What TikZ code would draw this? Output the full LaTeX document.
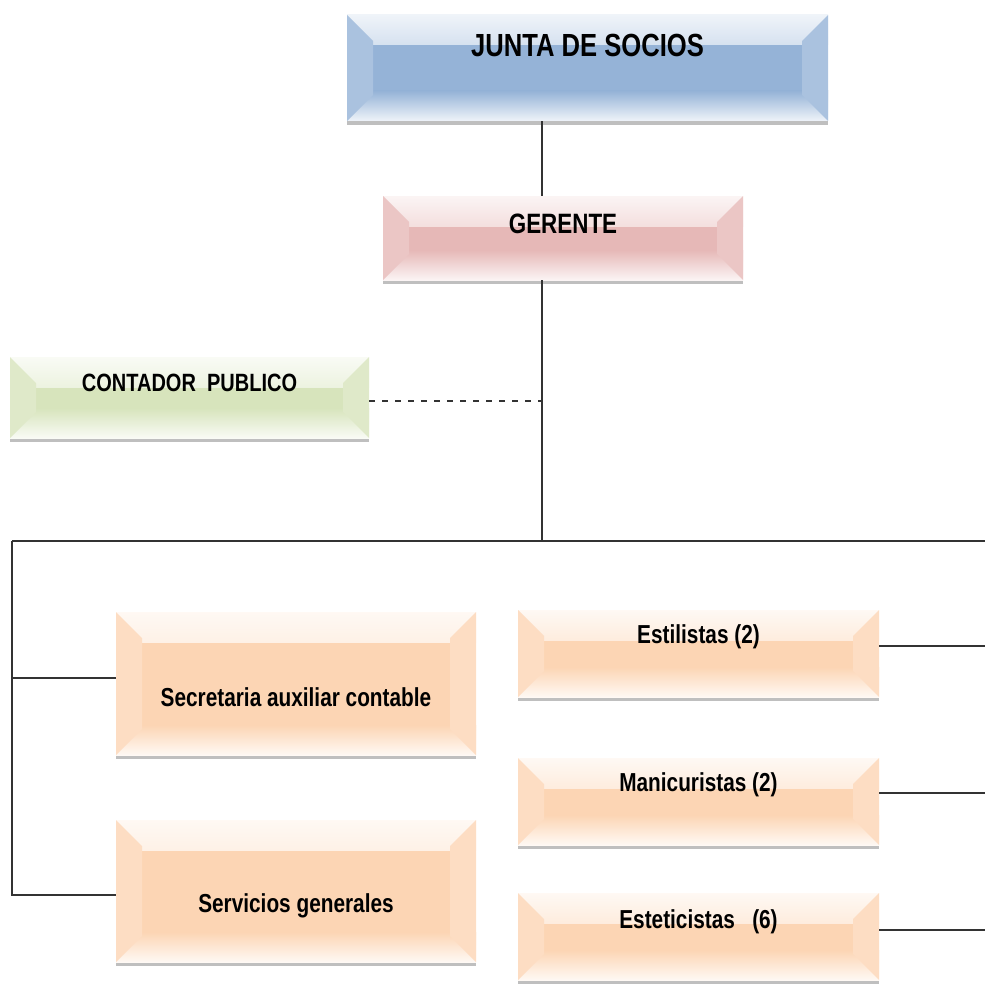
\documentclass[tikz,border=0pt]{standalone}
\usepackage{fontspec}
\newfontfamily\orgfont[FakeStretch=0.8]{Liberation Sans}
\usepackage{tikz}

\definecolor{azul}{HTML}{95B3D7}
\definecolor{rosa}{HTML}{E6B8B7}
\definecolor{verde}{HTML}{D7E4BC}
\definecolor{naranja}{HTML}{FCD5B4}
\definecolor{linea}{HTML}{333333}

\begin{document}
\begin{tikzpicture}[x=0.5pt,y=-0.5pt]
	\tikzset{caja/.style={rectangle,fill=#1,inner sep=0pt,
			preaction={fill=black!25,transform canvas={yshift=-1.8pt}},
			path picture={
				\fill[top color=#1!15!white,bottom color=#1] (path picture bounding box.north west) rectangle ([yshift=-15pt]path picture bounding box.north east);
				\fill[top color=#1,bottom color=#1!15!white] ([yshift=15pt]path picture bounding box.south west) rectangle (path picture bounding box.south east);
				\fill[#1!80!white] (path picture bounding box.north west) -- ++(13pt,-13pt) -- ([shift={(13pt,13pt)}]path picture bounding box.south west) -- (path picture bounding box.south west) -- cycle;
				\fill[#1!80!white] (path picture bounding box.north east) -- ++(-13pt,-13pt) -- ([shift={(-13pt,13pt)}]path picture bounding box.south east) -- (path picture bounding box.south east) -- cycle;
			}}}
	\tikzstyle{texto}=[font=\orgfont\bfseries,text=black,inner sep=0pt]
	\tikzstyle{conector}=[draw=linea,line width=1.4pt]
	\useasboundingbox (0,0) rectangle (985,990);

	% niveles superiores
	\node[caja=azul,minimum width=240.5pt,minimum height=53pt,
		label={[texto,font=\orgfont\bfseries\fontsize{16}{18}\selectfont,yshift=11.5pt]center:JUNTA DE SOCIOS}] (junta) at (587.5,68) {};
	\node[caja=rosa,minimum width=180pt,minimum height=42pt,
		label={[texto,font=\orgfont\bfseries\fontsize{14}{16}\selectfont,yshift=7pt]center:GERENTE}] (gerente) at (563,238) {};
	\node[caja=verde,minimum width=179.5pt,minimum height=40.5pt,
		label={[texto,font=\orgfont\bfseries\fontsize{12.5}{14}\selectfont,yshift=7.2pt]center:CONTADOR\ \ PUBLICO}] (contador) at (189.5,397.5) {};

	% personal
	\node[caja=naranja,minimum width=180pt,minimum height=71.5pt,
		label={[texto,font=\orgfont\bfseries\fontsize{13}{15}\selectfont,yshift=-6.8pt]center:Secretaria auxiliar contable}] (secretaria) at (296,683.5) {};
	\node[caja=naranja,minimum width=180pt,minimum height=71pt,
		label={[texto,font=\orgfont\bfseries\fontsize{13}{15}\selectfont,yshift=-7.5pt]center:Servicios generales}] (servicios) at (296,891) {};
	\node[caja=naranja,minimum width=180.5pt,minimum height=43.5pt,
		label={[texto,font=\orgfont\bfseries\fontsize{13}{15}\selectfont,yshift=8.2pt]center:Estilistas (2)}] (estilistas) at (698.5,653.5) {};
	\node[caja=naranja,minimum width=180.5pt,minimum height=43.5pt,
		label={[texto,font=\orgfont\bfseries\fontsize{13}{15}\selectfont,yshift=8.2pt]center:Manicuristas (2)}] (manicuristas) at (698.5,801.5) {};
	\node[caja=naranja,minimum width=180.5pt,minimum height=43.5pt,
		label={[texto,font=\orgfont\bfseries\fontsize{13}{15}\selectfont,yshift=7.2pt]center:Esteticistas\ \ \ (6)}] (esteticistas) at (698.5,936.5) {};

	\coordinate (eje) at (542,541);
	\coordinate (izq) at (12,541);
	\coordinate (der) at (985,541);

	% lineas de mando
	\draw[conector] (junta.south -| eje) -- (gerente.north -| eje);
	\draw[conector] (gerente.south -| eje) -- (eje);
	\draw[conector,line width=1.2pt,dash pattern=on 3pt off 3.5pt] ([yshift=-1.75pt]contador.east) -- ([yshift=-1.75pt]contador.east -| eje);
	\draw[conector] (izq) -- (der);
	\draw[conector] (izq) -- ([yshift=-2pt]servicios.west -| izq) -- ([yshift=-2pt]servicios.west);
	\draw[conector] ([yshift=2.75pt]secretaria.west -| izq) -- ([yshift=2.75pt]secretaria.west);
	\draw[conector] ([yshift=3.75pt]estilistas.east) -- ([yshift=3.75pt]estilistas.east -| der);
	\draw[conector] ([yshift=4.25pt]manicuristas.east) -- ([yshift=4.25pt]manicuristas.east -| der);
	\draw[conector] ([yshift=3.25pt]esteticistas.east) -- ([yshift=3.25pt]esteticistas.east -| der);
\end{tikzpicture}
\end{document}
